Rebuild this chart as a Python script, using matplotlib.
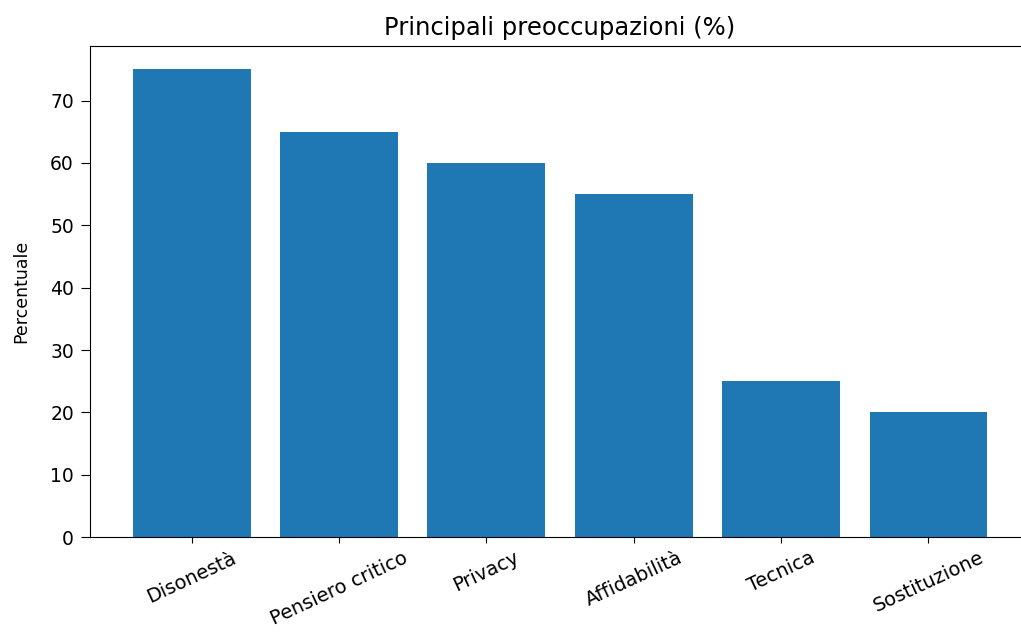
import matplotlib
matplotlib.use("Agg")
import matplotlib.pyplot as plt

categories = ['Disonestà', 'Pensiero critico', 'Privacy', 'Affidabilità', 'Tecnica', 'Sostituzione']
values = [75, 65, 60, 55, 25, 20]

fig = plt.figure(figsize=(10.21, 6.38), dpi=100)
# the reference is cropped on the right, so the axes run past the figure edge
ax = fig.add_axes([0.088, 0.158, 0.921, 0.770])

ax.bar(categories, values, color='#1f77b4', width=0.8)
ax.set_title('Principali preoccupazioni (%)', fontsize=17.5, pad=8)
ax.set_ylabel('Percentuale', fontsize=12.5, labelpad=14)
ax.set_yticks(range(0, 80, 10))
ax.tick_params(axis='y', labelsize=13.5, length=6.5, pad=5)
ax.tick_params(axis='x', labelsize=14, length=4.5)
plt.setp(ax.get_xticklabels(), rotation=25)
ax.spines['right'].set_visible(False)

fig.savefig('out.png', dpi=100)
